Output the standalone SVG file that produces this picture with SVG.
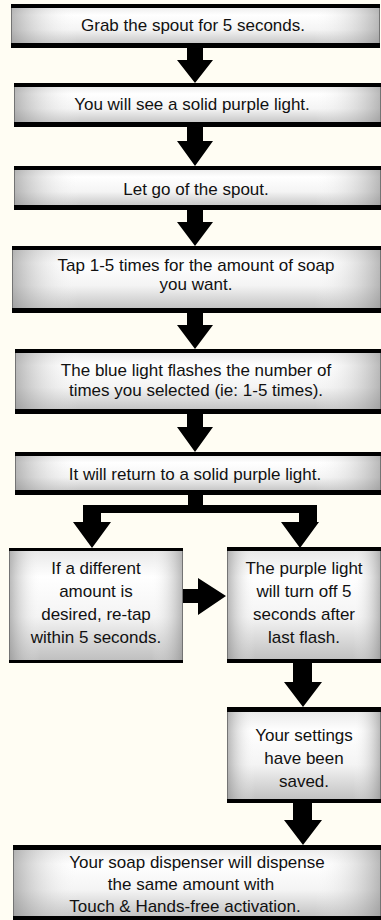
<svg xmlns="http://www.w3.org/2000/svg" width="381" height="920" viewBox="0 0 381 920">
<defs>
<linearGradient id="gv" x1="0" y1="0" x2="0" y2="1">
<stop offset="0" stop-color="#e6e6e6"/>
<stop offset="0.25" stop-color="#ffffff"/>
<stop offset="0.6" stop-color="#f4f4f4"/>
<stop offset="1" stop-color="#bdbdbd"/>
</linearGradient>
<linearGradient id="gh" x1="0" y1="0" x2="1" y2="0">
<stop offset="0" stop-color="#8a8a8a" stop-opacity="0.6"/>
<stop offset="0.18" stop-color="#ffffff" stop-opacity="0"/>
<stop offset="0.82" stop-color="#ffffff" stop-opacity="0"/>
<stop offset="1" stop-color="#8a8a8a" stop-opacity="0.6"/>
</linearGradient>
</defs>
<style>
.bg{fill:#fffdf3}
.box{fill:url(#gv);stroke:#6a6a6a;stroke-width:1}
.sh{fill:url(#gh)}
.bar{fill:#000}
.t{font-family:"Liberation Sans",Arial,sans-serif;font-size:17px;fill:#111;text-anchor:middle}
.arr{fill:#000}
</style>
<rect class="bg" x="0" y="0" width="381" height="920"/>

<g id="connectors">
<polygon class="arr" points="187,47 203,47 203,60 213,60 195,83 177,60 187,60"/>
<polygon class="arr" points="187,126 203,126 203,141 213,141 195,166 177,141 187,141"/>
<polygon class="arr" points="187,209 203,209 203,222 213,222 195,246 177,222 187,222"/>
<polygon class="arr" points="187,312 203,312 203,325 213,325 195,349 177,325 187,325"/>
<polygon class="arr" points="187,413 203,413 203,427 213,427 195,452 177,427 187,427"/>
<polygon class="arr" points="188,494 203,494 203,505 317,505 317,522 319,522 300,548 281,522 299,522 299,513 101,513 101,522 111,522 92,548 73,522 83,522 83,505 188,505"/>
<polygon class="arr" points="183,589 198,589 198,578 226,596 198,615 198,603 183,603"/>
<polygon class="arr" points="293,663 312,663 312,682 322,682 303,707 284,682 293,682"/>
<polygon class="arr" points="293,803 312,803 312,820 322,820 303,845 284,820 293,820"/>
</g>

<g id="n1">
<rect class="box" x="11.5" y="4.5" width="368" height="42"/>
<rect class="sh" x="11.5" y="4.5" width="368" height="42"/>
<rect class="bar" x="11" y="4" width="369" height="4"/>
<rect class="bar" x="11" y="43" width="369" height="5"/>
<text class="t" x="193" y="31">Grab the spout for 5 seconds.</text>
</g>

<g id="n2">
<rect class="box" x="14.5" y="83.5" width="366" height="42"/>
<rect class="sh" x="14.5" y="83.5" width="366" height="42"/>
<rect class="bar" x="14" y="83" width="367" height="4"/>
<rect class="bar" x="14" y="122" width="367" height="5"/>
<text class="t" x="192" y="110">You will see a solid purple light.</text>
</g>

<g id="n3">
<rect class="box" x="14.5" y="166.5" width="366" height="42"/>
<rect class="sh" x="14.5" y="166.5" width="366" height="42"/>
<rect class="bar" x="14" y="166" width="367" height="4"/>
<rect class="bar" x="14" y="205" width="367" height="5"/>
<text class="t" x="196" y="195">Let go of the spout.</text>
</g>

<g id="n4">
<rect class="box" x="12.5" y="246.5" width="368" height="65"/>
<rect class="sh" x="12.5" y="246.5" width="368" height="65"/>
<rect class="bar" x="12" y="246" width="369" height="4"/>
<rect class="bar" x="12" y="308" width="369" height="5"/>
<text class="t" x="196" y="271">Tap 1-5 times for the amount of soap</text>
<text class="t" x="196" y="290">you want.</text>
</g>

<g id="n5">
<rect class="box" x="15.5" y="349.5" width="365" height="63"/>
<rect class="sh" x="15.5" y="349.5" width="365" height="63"/>
<rect class="bar" x="15" y="349" width="366" height="4"/>
<rect class="bar" x="15" y="409" width="366" height="5"/>
<text class="t" x="196" y="376">The blue light flashes the number of</text>
<text class="t" x="196" y="396">times you selected (ie: 1-5 times).</text>
</g>

<g id="n6">
<rect class="box" x="15.5" y="452.5" width="365" height="41"/>
<rect class="sh" x="15.5" y="452.5" width="365" height="41"/>
<rect class="bar" x="15" y="452" width="366" height="4"/>
<rect class="bar" x="15" y="490" width="366" height="5"/>
<text class="t" x="195" y="480">It will return to a solid purple light.</text>
</g>

<g id="n7">
<rect class="box" x="9.5" y="548.5" width="173" height="114"/>
<rect class="sh" x="9.5" y="548.5" width="173" height="114"/>
<rect class="bar" x="9" y="548" width="174" height="3"/>
<rect class="bar" x="9" y="660" width="174" height="3"/>
<text class="t" x="96" y="574">If a different</text>
<text class="t" x="96" y="597">amount is</text>
<text class="t" x="96" y="620">desired, re-tap</text>
<text class="t" x="96" y="643">within 5 seconds.</text>
</g>

<g id="n8">
<rect class="box" x="227.5" y="548.5" width="153" height="114"/>
<rect class="sh" x="227.5" y="548.5" width="153" height="114"/>
<rect class="bar" x="227" y="547" width="154" height="4"/>
<rect class="bar" x="227" y="659" width="154" height="4"/>
<text class="t" x="304" y="574">The purple light</text>
<text class="t" x="304" y="597">will turn off 5</text>
<text class="t" x="304" y="620">seconds after</text>
<text class="t" x="304" y="643">last flash.</text>
</g>

<g id="n9">
<rect class="box" x="227.5" y="707.5" width="153" height="95"/>
<rect class="sh" x="227.5" y="707.5" width="153" height="95"/>
<rect class="bar" x="227" y="707" width="154" height="5"/>
<rect class="bar" x="227" y="799" width="154" height="4"/>
<text class="t" x="304" y="741">Your settings</text>
<text class="t" x="304" y="764">have been</text>
<text class="t" x="304" y="787">saved.</text>
</g>

<g id="n10">
<rect class="box" x="13.5" y="845.5" width="367" height="74"/>
<rect class="sh" x="13.5" y="845.5" width="367" height="74"/>
<rect class="bar" x="13" y="845" width="368" height="5"/>
<rect class="bar" x="13" y="916" width="368" height="4"/>
<text class="t" x="197" y="868">Your soap dispenser will dispense</text>
<text class="t" x="191" y="890">the same amount with</text>
<text class="t" x="185" y="912">Touch &amp; Hands-free activation.</text>
</g>
</svg>
